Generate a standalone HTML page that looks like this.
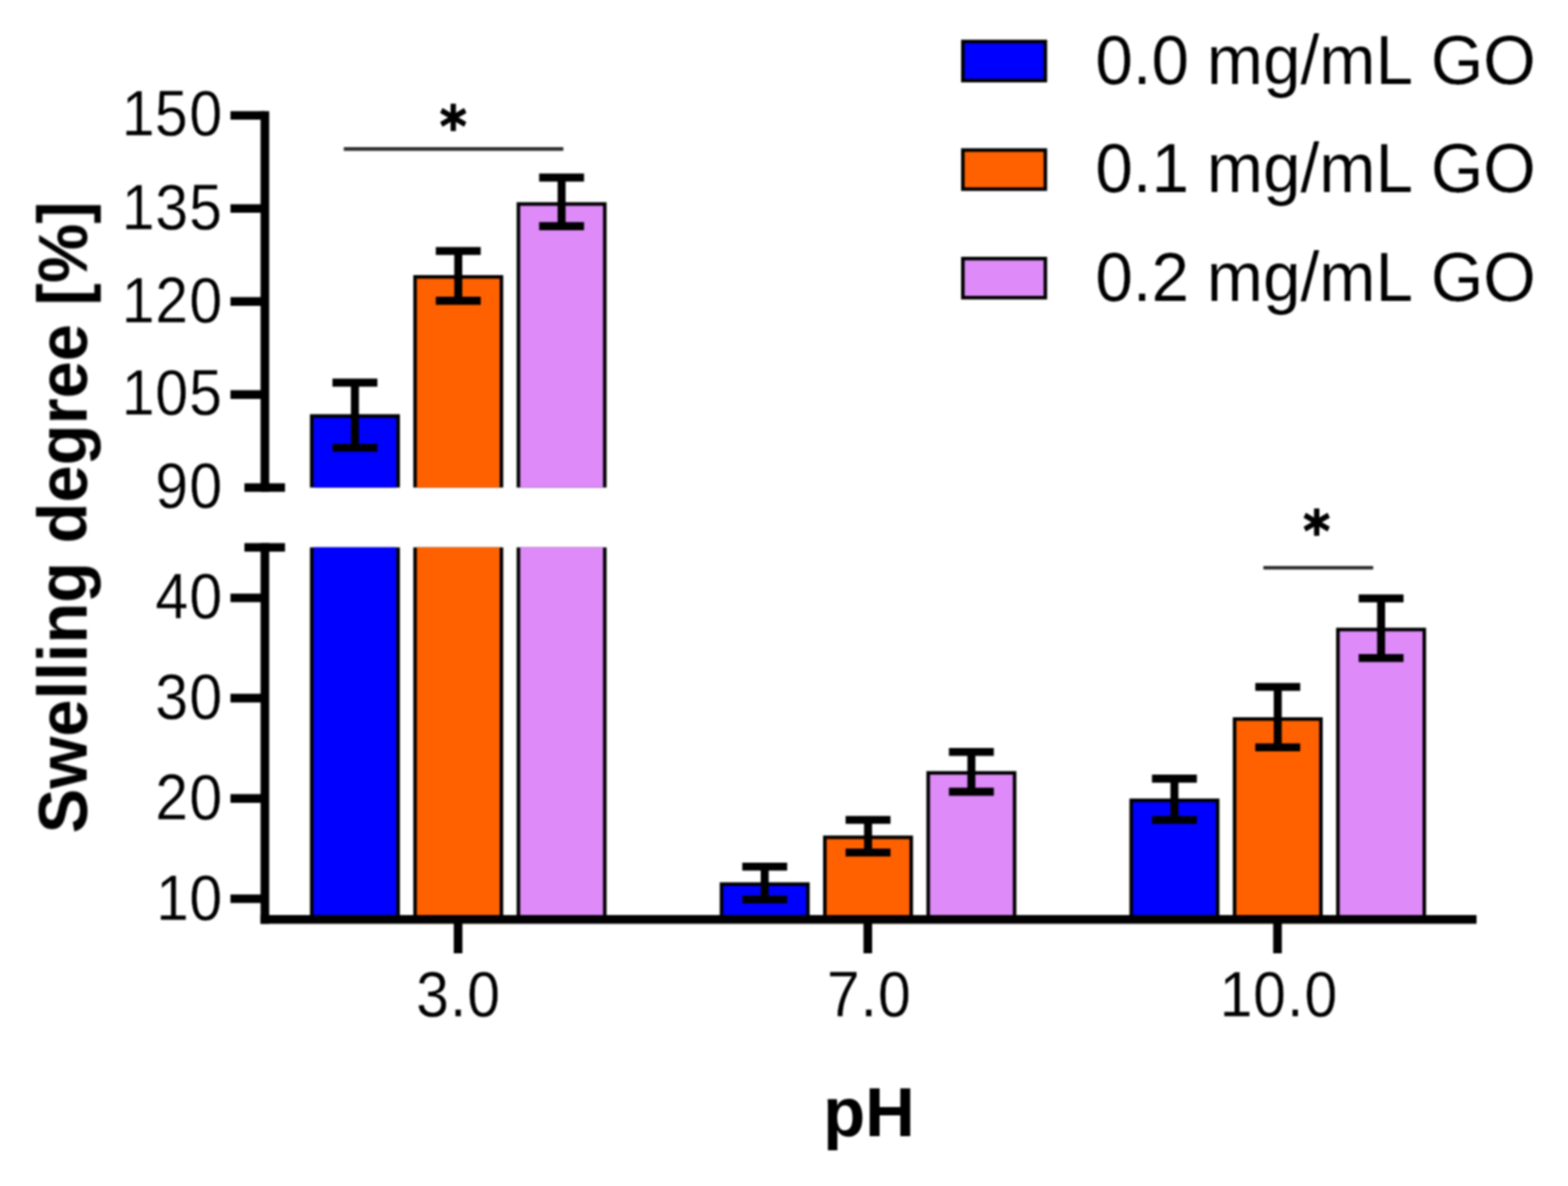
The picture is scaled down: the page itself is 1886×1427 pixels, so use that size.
<!DOCTYPE html>
<html lang="en">
<head>
<meta charset="utf-8">
<title>Swelling degree vs pH</title>
<style>
html,body{margin:0;padding:0;background:#fff;}
body{width:1886px;height:1427px;overflow:hidden;font-family:"Liberation Sans",sans-serif;}
svg{display:block;}
</style>
</head>
<body>
<svg width="1886" height="1427" viewBox="0 0 1886 1427">
<defs><filter id="soft" x="0" y="0" width="100%" height="100%" filterUnits="userSpaceOnUse" color-interpolation-filters="sRGB"><feGaussianBlur stdDeviation="0.8"/></filter></defs>
<rect width="1886" height="1427" fill="#fff"/>
<g filter="url(#soft)">
<rect x="372.80" y="498.40" width="108.20" height="88.20" fill="#000"/>
<rect x="377.10" y="502.70" width="99.60" height="83.90" fill="#0000ff"/>
<rect x="372.80" y="658.60" width="108.20" height="447.60" fill="#000"/>
<rect x="377.10" y="658.60" width="99.60" height="447.60" fill="#0000ff"/>
<rect x="497.10" y="331.00" width="108.20" height="255.60" fill="#000"/>
<rect x="501.40" y="335.30" width="99.60" height="251.30" fill="#ff6100"/>
<rect x="497.10" y="658.60" width="108.20" height="447.60" fill="#000"/>
<rect x="501.40" y="658.60" width="99.60" height="447.60" fill="#ff6100"/>
<rect x="621.40" y="243.30" width="108.20" height="343.30" fill="#000"/>
<rect x="625.70" y="247.60" width="99.60" height="339.00" fill="#de8bf9"/>
<rect x="621.40" y="658.60" width="108.20" height="447.60" fill="#000"/>
<rect x="625.70" y="658.60" width="99.60" height="447.60" fill="#de8bf9"/>
<rect x="865.70" y="1061.60" width="108.20" height="44.60" fill="#000"/>
<rect x="870.00" y="1065.90" width="99.60" height="40.30" fill="#0000ff"/>
<rect x="990.00" y="1005.30" width="108.20" height="100.90" fill="#000"/>
<rect x="994.30" y="1009.60" width="99.60" height="96.60" fill="#ff6100"/>
<rect x="1114.30" y="927.80" width="108.20" height="178.40" fill="#000"/>
<rect x="1118.60" y="932.10" width="99.60" height="174.10" fill="#de8bf9"/>
<rect x="1358.50" y="960.80" width="108.20" height="145.40" fill="#000"/>
<rect x="1362.80" y="965.10" width="99.60" height="141.10" fill="#0000ff"/>
<rect x="1482.80" y="863.00" width="108.20" height="243.20" fill="#000"/>
<rect x="1487.10" y="867.30" width="99.60" height="238.90" fill="#ff6100"/>
<rect x="1607.10" y="755.30" width="108.20" height="350.90" fill="#000"/>
<rect x="1611.40" y="759.60" width="99.60" height="346.60" fill="#de8bf9"/>
<path d="M399.90 460.40H453.90M399.90 538.70H453.90M426.90 460.40V538.70" stroke="#000" stroke-width="9.6" fill="none"/>
<path d="M524.20 302.00H578.20M524.20 361.90H578.20M551.20 302.00V361.90" stroke="#000" stroke-width="9.6" fill="none"/>
<path d="M648.50 213.60H702.50M648.50 272.10H702.50M675.50 213.60V272.10" stroke="#000" stroke-width="9.6" fill="none"/>
<path d="M892.80 1042.80H946.80M892.80 1082.30H946.80M919.80 1042.80V1082.30" stroke="#000" stroke-width="9.6" fill="none"/>
<path d="M1017.10 986.50H1071.10M1017.10 1025.80H1071.10M1044.10 986.50V1025.80" stroke="#000" stroke-width="9.6" fill="none"/>
<path d="M1141.40 904.80H1195.40M1141.40 952.60H1195.40M1168.40 904.80V952.60" stroke="#000" stroke-width="9.6" fill="none"/>
<path d="M1385.60 936.90H1439.60M1385.60 986.50H1439.60M1412.60 936.90V986.50" stroke="#000" stroke-width="9.6" fill="none"/>
<path d="M1509.90 826.50H1563.90M1509.90 899.20H1563.90M1536.90 826.50V899.20" stroke="#000" stroke-width="9.6" fill="none"/>
<path d="M1634.20 720.00H1688.20M1634.20 791.80H1688.20M1661.20 720.00V791.80" stroke="#000" stroke-width="9.6" fill="none"/>
<g stroke="#000" stroke-width="10.4" fill="none">
<path d="M318.6 133.70V591.80"/>
<path d="M318.6 653.40V1111.40"/>
<path d="M313.40 1106.2H1776"/>
<path d="M277.2 138.90H318.6"/>
<path d="M277.2 250.83H318.6"/>
<path d="M277.2 362.75H318.6"/>
<path d="M277.2 474.68H318.6"/>
<path d="M277.2 719.40H318.6"/>
<path d="M277.2 840.07H318.6"/>
<path d="M277.2 960.73H318.6"/>
<path d="M277.2 1081.40H318.6"/>
<path d="M294 586.6H342.8"/>
<path d="M294 658.6H342.8"/>
<path d="M551.0 1106.2V1147"/>
<path d="M1043.8 1106.2V1147"/>
<path d="M1536.6 1106.2V1147"/>
</g>
<path d="M413.5 179.2H677.6M1519.6 683.1H1651.7" stroke="#2e2e2e" stroke-width="4.4" fill="none"/>
<g font-family="&quot;Liberation Sans&quot;, sans-serif" fill="#000" stroke="#fff" stroke-width="0.35" stroke-linejoin="round">
<text transform="translate(0 163.40) scale(0.96 1.04)" x="152.66 194.08 237.36" y="0" font-size="74">150</text>
<text transform="translate(0 276.03) scale(0.96 1.04)" x="152.66 194.49 236.95" y="0" font-size="74">135</text>
<text transform="translate(0 387.55) scale(0.96 1.04)" x="152.66 194.49 237.36" y="0" font-size="74">120</text>
<text transform="translate(0 499.48) scale(0.96 1.04)" x="152.66 194.49 236.95" y="0" font-size="74">105</text>
<text transform="translate(0 611.40) scale(0.96 1.04)" x="194.49 237.36" y="0" font-size="74">90</text>
<text transform="translate(0 744.20) scale(0.96 1.04)" x="194.49 237.36" y="0" font-size="74">40</text>
<text transform="translate(0 864.87) scale(0.96 1.04)" x="194.49 237.36" y="0" font-size="74">30</text>
<text transform="translate(0 985.53) scale(0.96 1.04)" x="194.49 237.36" y="0" font-size="74">20</text>
<text transform="translate(0 1107.00) scale(0.96 1.04)" x="195.53 237.36" y="0" font-size="74">10</text>
<text transform="translate(0 1222.90) scale(0.96 1.04)" x="521.24 563.68 585.52" y="0" font-size="74">3.0</text>
<text transform="translate(0 1222.90) scale(0.96 1.04)" x="1035.82 1078.26 1100.11" y="0" font-size="74">7.0</text>
<text transform="translate(0 1222.90) scale(0.96 1.04)" x="1528.24 1570.07 1612.51 1634.35" y="0" font-size="74">10.0</text>
<text transform="translate(0 100.60) scale(1.0 1.03)" x="1317.40 1362.56 1385.12 1430.28 1451.50 1519.14 1564.30 1586.86 1654.50 1699.66 1720.90 1784.06" y="0" font-size="81.2" stroke-width="0.2">0.0 mg/mL GO</text>
<text transform="translate(0 231.25) scale(1.0 1.03)" x="1317.40 1362.56 1385.12 1430.28 1451.50 1519.14 1564.30 1586.86 1654.50 1699.66 1720.90 1784.06" y="0" font-size="81.2" stroke-width="0.2">0.1 mg/mL GO</text>
<text transform="translate(0 361.90) scale(1.0 1.03)" x="1317.40 1362.56 1385.12 1430.28 1451.50 1519.14 1564.30 1586.86 1654.50 1699.66 1720.90 1784.06" y="0" font-size="81.2" stroke-width="0.2">0.2 mg/mL GO</text>
<text transform="translate(989.90 1366.80) scale(1.0000 1.0100)" font-size="83" text-anchor="start" font-weight="bold" stroke="none">pH</text>
<text transform="translate(104.20 1002.62) rotate(-90) scale(1.0000 1.0400)" font-size="80.49" text-anchor="start" font-weight="bold" stroke="none">Swelling degree [%]</text>
</g>
<text transform="translate(528.89 175.75) scale(1 1.08)" font-family="&quot;DejaVu Sans&quot;, &quot;Liberation Sans&quot;, sans-serif" font-weight="bold" font-size="62" fill="#000" stroke="#000" stroke-width="1.3" stroke-linejoin="round">*</text>
<text transform="translate(1567.59 662.65) scale(1 1.08)" font-family="&quot;DejaVu Sans&quot;, &quot;Liberation Sans&quot;, sans-serif" font-weight="bold" font-size="62" fill="#000" stroke="#000" stroke-width="1.3" stroke-linejoin="round">*</text>
<rect x="1156.00" y="47.80" width="103.50" height="51.30" fill="#000"/>
<rect x="1160.30" y="52.10" width="94.90" height="42.70" fill="#0000ff"/>
<rect x="1156.00" y="178.40" width="103.50" height="51.30" fill="#000"/>
<rect x="1160.30" y="182.70" width="94.90" height="42.70" fill="#ff6100"/>
<rect x="1156.00" y="309.00" width="103.50" height="51.30" fill="#000"/>
<rect x="1160.30" y="313.30" width="94.90" height="42.70" fill="#de8bf9"/>
</g>
</svg>
</body>
</html>
